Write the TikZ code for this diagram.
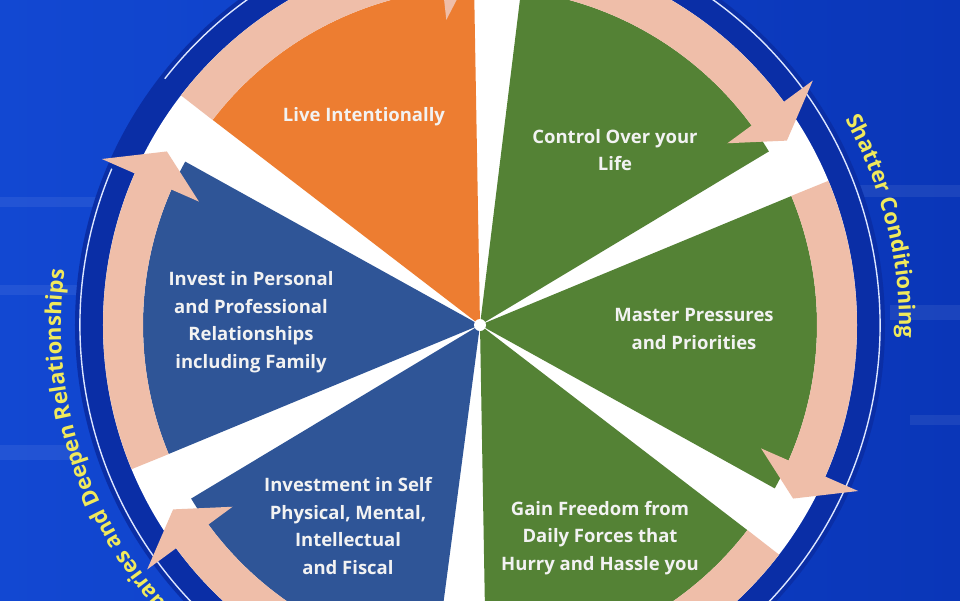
\documentclass[tikz,border=0pt]{standalone}
\usepackage{fontspec}
\setmainfont{Open Sans}
\newfontfamily\wedgefont{Open Sans}
\newfontfamily\arcfont{Open Sans}
\usetikzlibrary{decorations.text}
\definecolor{Backdrop}{HTML}{1248D2}
\definecolor{BackdropDark}{HTML}{0A36B8}
\definecolor{Band}{HTML}{0A2EA6}
\definecolor{Rim}{HTML}{DCE6FF}
\definecolor{Tangerine}{HTML}{ED7D31}
\definecolor{Leaf}{HTML}{548235}
\definecolor{Denim}{HTML}{2F5597}
\definecolor{Salmon}{HTML}{EFBEA9}
\definecolor{Lemon}{HTML}{F0E95C}
\definecolor{Paper}{HTML}{F2F2F2}
\tikzset{
  wedgelabel/.style={text=Paper, align=center, inner sep=0pt, font=\wedgefont\bfseries\fontsize{18.5}{27.5}\selectfont},
  ringarc/.style={draw=Salmon, line width=40, line cap=butt},
  ringhead/.style={fill=Salmon},
  rimline/.style={draw=Rim, line width=1.4},
  streak/.style={fill=white, fill opacity=0.07},
  hubdot/.style={circle, fill=white, minimum size=12, inner sep=0pt}
}

\begin{document}
\begin{tikzpicture}[x=1pt, y=1pt]
  \useasboundingbox (-480,-275) rectangle (480,325);
  \clip (-480,-275) rectangle (480,325);
  \shade[left color=Backdrop, right color=BackdropDark] (-480,-275) rectangle (480,325);
  % faint panels in the backdrop
  \fill[streak] (-480,128) rectangle (-330,118);
  \fill[streak] (-480,40) rectangle (-380,30);
  \fill[streak] (-480,-120) rectangle (-400,-135);
  \fill[streak] (380,140) rectangle (480,128);
  \fill[streak] (410,20) rectangle (480,5);
  \fill[streak] (430,-90) rectangle (480,-100);

  % outer band and rim
  \fill[Band] (0,0) circle[radius=405];
  \draw[rimline] (157:400) arc[start angle=157, end angle=502, radius=400];
  \fill[white] (0,0) circle[radius=377];

  % wedges
  \fill[Tangerine] (0,0) -- (91:337) arc[start angle=91, end angle=142.5, radius=337] -- cycle;
  \fill[Leaf] (0,0) -- (31:337) arc[start angle=31, end angle=83, radius=337] -- cycle;
  \fill[Leaf] (0,0) -- (-29:337) arc[start angle=-29, end angle=22.5, radius=337] -- cycle;
  \fill[Leaf] (0,0) -- (-89:337) arc[start angle=-89, end angle=-37.5, radius=337] -- cycle;
  \fill[Denim] (0,0) -- (-149:337) arc[start angle=-149, end angle=-97.5, radius=337] -- cycle;
  \fill[Denim] (0,0) -- (151:337) arc[start angle=151, end angle=202.5, radius=337] -- cycle;
  \node[hubdot] (hub) at (0,0) {};

  % clockwise ring arrows
  \draw[ringarc] (142.5:357) arc[start angle=142.5, end angle=96, radius=357];
  \fill[ringhead] (96.3:307) -- (91:358) -- (96.3:413) -- cycle;
  \draw[ringarc] (83:357) arc[start angle=83, end angle=36, radius=357];
  \fill[ringhead] (36.3:307) -- (31:358) -- (36.3:413) -- cycle;
  \draw[ringarc] (22.5:357) arc[start angle=22.5, end angle=-24, radius=357];
  \fill[ringhead] (-23.7:307) -- (-29:358) -- (-23.7:413) -- cycle;
  \draw[ringarc] (-37.5:357) arc[start angle=-37.5, end angle=-84, radius=357];
  \fill[ringhead] (-83.7:307) -- (-89:358) -- (-83.7:413) -- cycle;
  \draw[ringarc] (-97.5:357) arc[start angle=-97.5, end angle=-144, radius=357];
  \fill[ringhead] (-143.7:307) -- (-149:358) -- (-143.7:413) -- cycle;
  \draw[ringarc] (202.5:357) arc[start angle=202.5, end angle=156, radius=357];
  \fill[ringhead] (156.3:307) -- (151:358) -- (156.3:413) -- cycle;

  % wedge labels
  \node[wedgelabel] (live) at (-116,208) {Live Intentionally};
  \node[wedgelabel] (control) at (135,175) {Control Over your\\Life};
  \node[wedgelabel] (master) at (214,-4) {Master Pressures\\and Priorities};
  \node[wedgelabel] (freedom) at (120,-213) {Gain Freedom from\\Daily Forces that\\Hurry and Hassle you};
  \node[wedgelabel] (self) at (-132,-201) {Investment in Self\\Physical, Mental,\\Intellectual\\and Fiscal};
  \node[wedgelabel] (personal) at (-229,3) {Invest in Personal\\and Professional\\Relationships\\including Family};

  % labels round the rim
  \path[decorate, decoration={text along path, text color=Lemon, text align=center,
      text={|\arcfont\bfseries\fontsize{22}{28}\selectfont|Shatter Conditioning}}]
    (43.8:419) arc[start angle=43.8, end angle=-16.2, radius=419];
  \path[decorate, decoration={text along path, text color=Lemon, text align=right,
      text={|\arcfont\bfseries\fontsize{22}{28}\selectfont|Boundaries and Deepen Relationships}}]
    (250:419) arc[start angle=250, end angle=172.5, radius=419];
\end{tikzpicture}
\end{document}
